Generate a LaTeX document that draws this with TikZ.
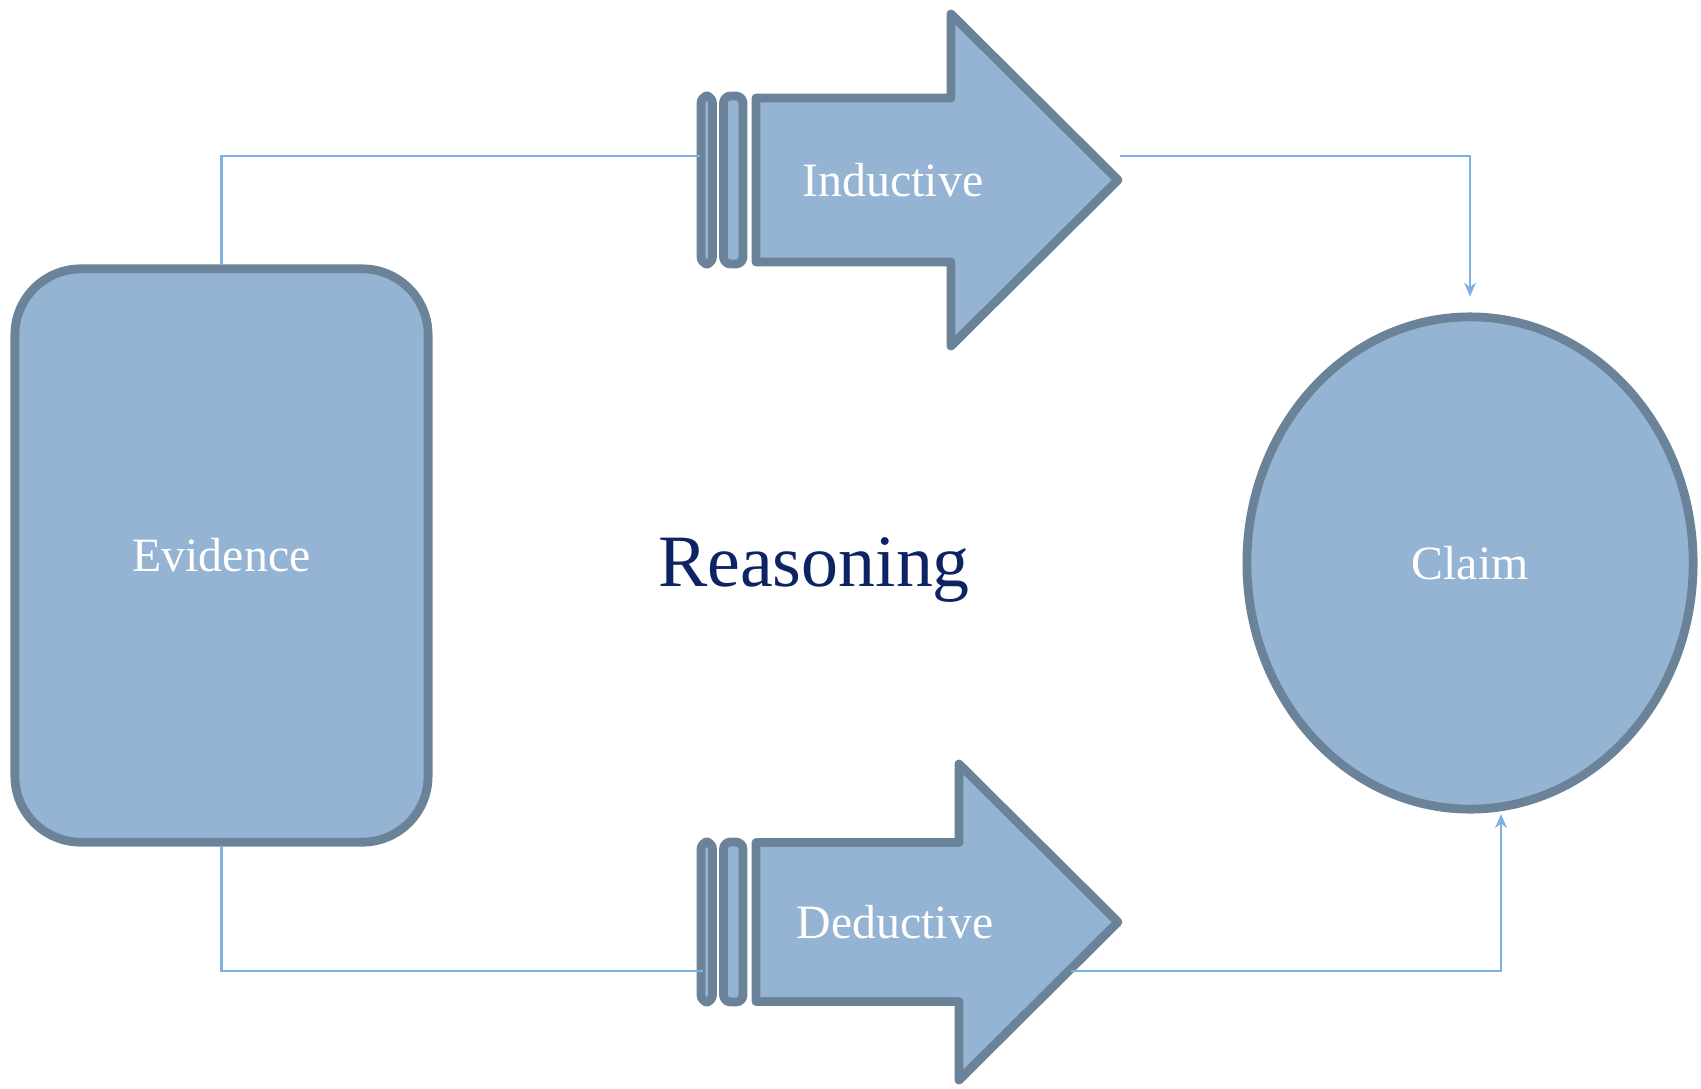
\documentclass[tikz,border=0pt]{standalone}
\usepackage{fontspec}
\setmainfont{Liberation Serif}
\usepackage{xcolor}
\usetikzlibrary{shapes.geometric,arrows.meta}

\definecolor{boxfill}{RGB}{149,179,210}
\definecolor{boxline}{RGB}{107,131,153}
\definecolor{linkblue}{RGB}{125,178,224}
\definecolor{reasnavy}{RGB}{14,35,100}

\begin{document}
\begin{tikzpicture}[x=0.01cm, y=-0.01cm,
  shapebox/.style={draw=boxline, fill=boxfill, line width=2.5pt, line join=round},
  labeltxt/.style={text=white, font=\fontsize{13.6}{16}\selectfont},
  link/.style={draw=linkblue, line width=0.6pt},
  linkarrow/.style={link, -{Stealth[length=4pt,width=3.4pt]}}]

%---------------- 尺寸參數 ----------------%
\def\stripA{701}  % 第一條尾片左
\def\stripB{712.5}% 第一條尾片右
\def\stripC{723.5}% 第二條尾片左
\def\stripD{743}  % 第二條尾片右
\def\bodyX{756}   % 箭身左緣
\def\tipX{1118}   % 箭頭尖端

\useasboundingbox (0,0) rectangle (1701,1088);

%---------------- Evidence / Claim ----------------%
\node[shapebox, rounded corners=0.66cm, minimum width=4.13cm, minimum height=5.73cm,
  inner sep=0pt, labeltxt] (ev) at (221.5,555.5) {Evidence};
\node[shapebox, ellipse, minimum width=4.46cm, minimum height=4.92cm,
  inner sep=0pt, labeltxt] (cl) at (1470,563) {Claim};

%---------------- 兩支箭頭 ----------------%
% 名稱 / 中心y / 箭身半高 / 尾片半高 / 箭頭底x / 箭頭半高 / 文字x / 文字
\foreach \nm/\cy/\sh/\sth/\hx/\hh/\lx/\lbl in
  {ind/180/82/84/951/166/893/Inductive, ded/922/79.5/80/959/158/895/Deductive} {
  % 尾片
  \draw[shapebox, rounded corners=2pt] (\stripA,\cy-\sth) rectangle (\stripB,\cy+\sth);
  \draw[shapebox, rounded corners=2pt] (\stripC,\cy-\sth) rectangle (\stripD,\cy+\sth);
  % 箭身
  \draw[shapebox] (\bodyX,\cy-\sh) -- (\hx,\cy-\sh) -- (\hx,\cy-\hh) -- (\tipX,\cy)
    -- (\hx,\cy+\hh) -- (\hx,\cy+\sh) -- (\bodyX,\cy+\sh) -- cycle;
  \node[labeltxt] (\nm) at (\lx,\cy) {\lbl};
}

\node[anchor=base, text=reasnavy, font=\fontsize{21}{25}\selectfont] (reas) at (814,586) {Reasoning};

%---------------- 連接線 ----------------%
\coordinate (indIn)  at (700,156);
\coordinate (indOut) at (1120,156);
\coordinate (dedIn)  at (703,971);
\coordinate (dedOut) at (1071,971);
\coordinate (clIn)   at (1501,814);

\draw[link] (ev.north) |- (indIn);
\draw[linkarrow, shorten >=4.5pt] (indOut) -| (cl.north);
\draw[link] (ev.south) |- (dedIn);
\draw[linkarrow] (dedOut) -| (clIn);

\end{tikzpicture}
\end{document}
